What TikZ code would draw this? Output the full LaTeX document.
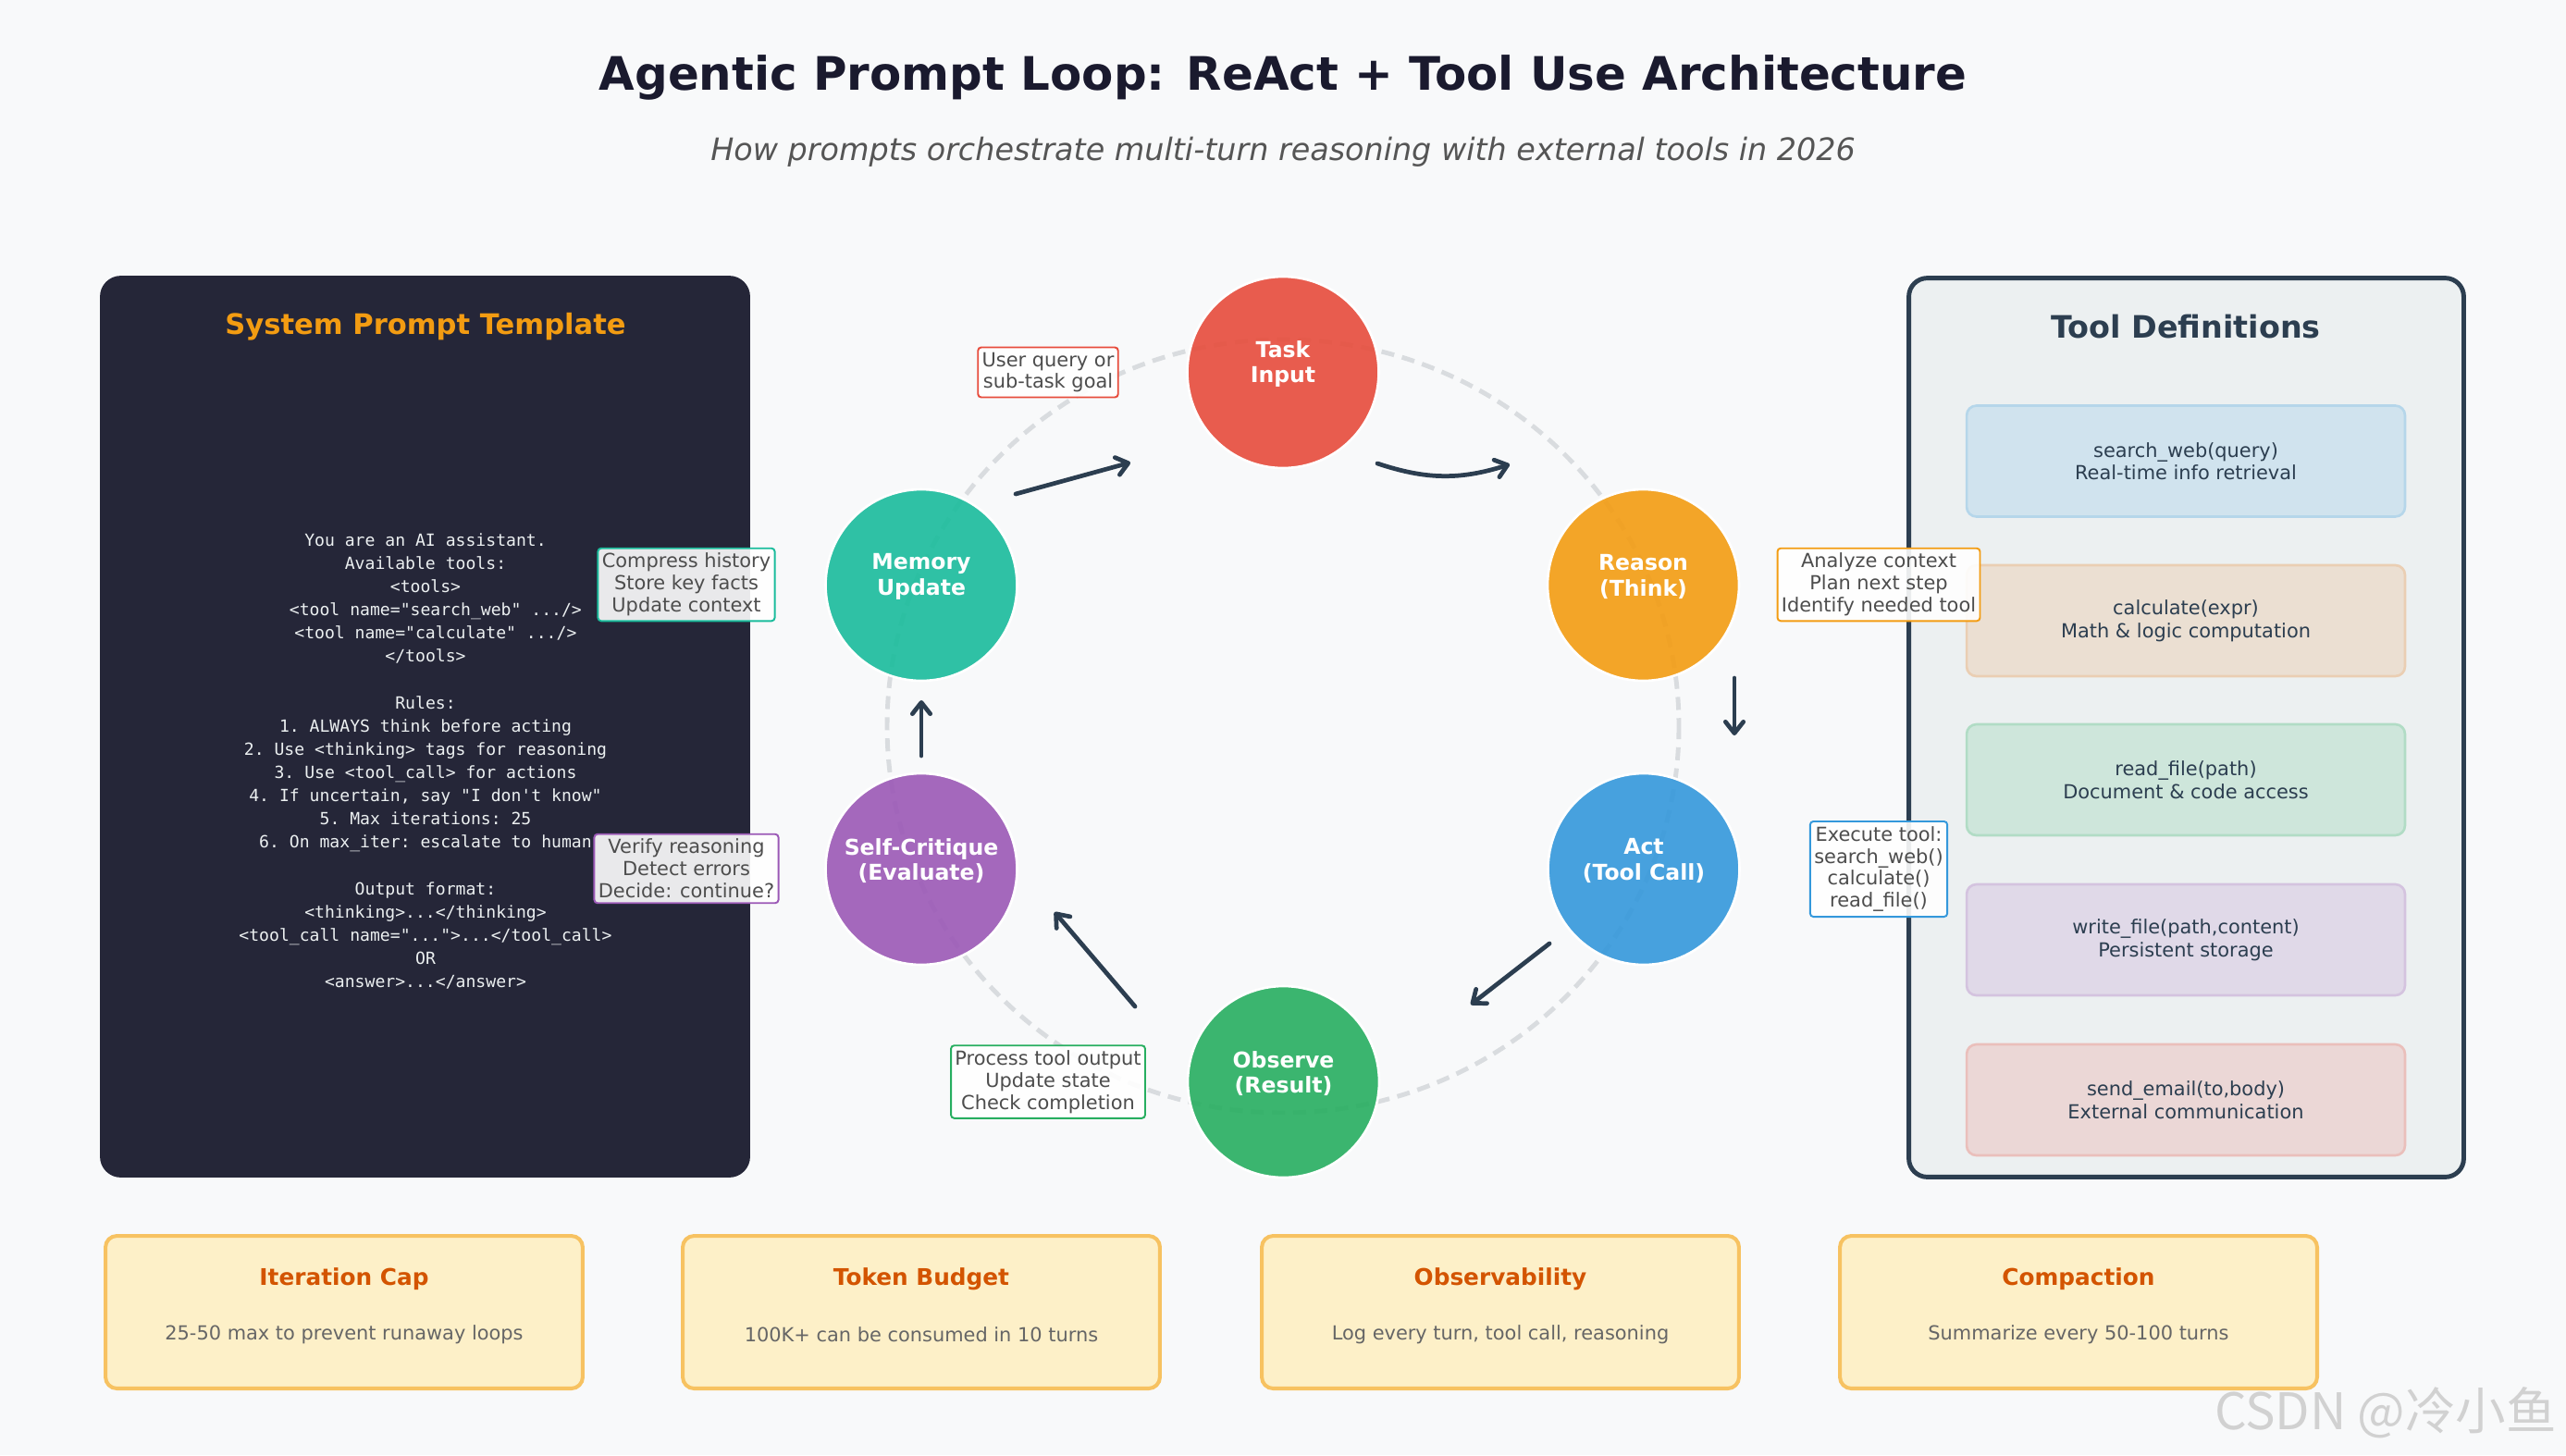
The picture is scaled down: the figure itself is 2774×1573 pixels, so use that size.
\documentclass[tikz,border=0pt]{standalone}
\usepackage{fontspec}
\setmainfont{DejaVu Sans}
\setmonofont{DejaVu Sans Mono}
\newfontfamily\cjkfont{Noto Sans CJK SC}
\usetikzlibrary{arrows.meta, calc}
\definecolor{pagebg}{HTML}{F8F9FA}
\definecolor{titlecol}{HTML}{1A1A2E}
\definecolor{subcol}{HTML}{555555}
\definecolor{panelbg}{HTML}{252638}
\definecolor{codecol}{HTML}{ECF0F1}
\definecolor{toolpanel}{HTML}{ECF0F1}
\definecolor{navy}{HTML}{2C3E50}
\definecolor{ringcol}{HTML}{D9DCDF}
\definecolor{notetext}{HTML}{4D4D4D}
\definecolor{cred}{HTML}{E74C3C}
\definecolor{corange}{HTML}{F39C12}
\definecolor{cdeep}{HTML}{E67E22}
\definecolor{cblue}{HTML}{3498DB}
\definecolor{cgreen}{HTML}{27AE60}
\definecolor{cpurple}{HTML}{9B59B6}
\definecolor{cteal}{HTML}{1ABC9C}
\definecolor{cardfill}{HTML}{FDF0C8}
\definecolor{cardline}{HTML}{F7C261}
\definecolor{cardhead}{HTML}{D35400}
\definecolor{carddesc}{HTML}{666666}

\begin{document}
\begin{tikzpicture}[x=0.02cm, y=-0.02cm,
 loopnode/.style={circle, minimum size=4.14cm, inner sep=0pt, draw=white, line width=1.5pt,
   fill=#1, fill opacity=0.9},
 looptext/.style={text=white, align=center, font=\bfseries\fontsize{13.4}{15.8}\selectfont},
 note/.style={draw=#1, fill=white, fill opacity=0.9, text opacity=1, text=notetext,
   rounded corners=2pt, line width=1.1pt, inner xsep=2.5pt, inner ysep=3pt, align=center,
   font=\fontsize{11.9}{13.6}\selectfont},
 toolbox/.style={draw=#1!30!toolpanel, fill=#1!15!toolpanel, rounded corners=6pt, line width=1.5pt,
   minimum width=9.48cm, minimum height=2.4cm, text=navy, align=center,
   font=\fontsize{11.9}{14}\selectfont},
 card/.style={draw=cardline, fill=cardfill, rounded corners=7pt, line width=2.3pt,
   minimum width=10.32cm, minimum height=3.3cm},
 cardttl/.style={text=cardhead, font=\bfseries\fontsize{14.1}{16}\selectfont},
 carddsc/.style={text=carddesc, font=\fontsize{11.9}{13}\selectfont},
 flow/.style={draw=navy, line width=2.7pt, line cap=round,
   -{Straight Barb[length=7pt,width=11pt,line cap=round,line join=round]}}]

\fill[pagebg] (0,0) rectangle (2774,1573);
\useasboundingbox (0,0) rectangle (2774,1573);

% heading
\node[anchor=base, text=titlecol, font=\bfseries\fontsize{28.4}{33}\selectfont] (title) at (1387,97)
  {Agentic Prompt Loop: ReAct + Tool Use Architecture};
\node[anchor=base, text=subcol, font=\itshape\fontsize{19}{23}\selectfont] (subtitle) at (1387,173)
  {How prompts orchestrate multi-turn reasoning with external tools in 2026};

% system prompt panel
\node[fill=panelbg, rounded corners=0.45cm, minimum width=14.06cm, minimum height=19.5cm] (sysp) at (459.5,785.5) {};
\node[text=corange, font=\bfseries\fontsize{17.4}{20}\selectfont] (sysptitle) at (460,353) {System Prompt Template};
\node[text=codecol, align=center, font=\ttfamily\fontsize{10.3}{14.3}\selectfont] (code) at (460,823)
  {You are an AI assistant.\\
   Available tools:\\
   <tools>\\
   \phantom{xx}<tool name="search\_web" .../>\\
   \phantom{xx}<tool name="calculate" .../>\\
   </tools>\\
   \mbox{}\\
   Rules:\\
   1. ALWAYS think before acting\\
   2. Use <thinking> tags for reasoning\\
   3. Use <tool\_call> for actions\\
   4. If uncertain, say "I don't know"\\
   5. Max iterations: 25\\
   6. On max\_iter: escalate to human\\
   \mbox{}\\
   Output format:\\
   <thinking>...</thinking>\\
   <tool\_call name="...">...</tool\_call>\\
   OR\\
   <answer>...</answer>};

% tool definitions panel
\node[draw=navy, line width=2.8pt, fill=toolpanel, rounded corners=0.4cm, minimum width=12cm, minimum height=19.44cm] (tools) at (2363.5,786.5) {};
\node[text=navy, font=\bfseries\fontsize{19}{22}\selectfont] (toolstitle) at (2363,353) {Tool Definitions};
\node[toolbox=cblue] (tsearch) at (2363,498.5) {search\_web(query)\\Real-time info retrieval};
\node[toolbox=cdeep] (tcalc) at (2363,671) {calculate(expr)\\Math \& logic computation};
\node[toolbox=cgreen] (tread) at (2363,843) {read\_file(path)\\Document \& code access};
\node[toolbox=cpurple] (twrite) at (2363,1016) {write\_file(path,content)\\Persistent storage};
\node[toolbox=cred] (temail) at (2363,1189) {send\_email(to,body)\\External communication};

% loop ring
\draw[ringcol, line width=2.8pt, dash pattern=on 8pt off 5pt] (1387,785) ellipse [x radius=428, y radius=418];

\node[loopnode=cred] (task) at (1387,402.5) {};
\node[loopnode=corange] (reason) at (1776.5,632.5) {};
\node[loopnode=cblue] (act) at (1777,939.5) {};
\node[loopnode=cgreen] (observe) at (1387.5,1169.5) {};
\node[loopnode=cpurple] (critique) at (996,939.5) {};
\node[loopnode=cteal] (memory) at (996,632.5) {};
\node[looptext] (tasktxt) at ($(task)+(0,-9)$) {Task\\Input};
\node[looptext] (reasontxt) at ($(reason)+(0,-9)$) {Reason\\(Think)};
\node[looptext] (acttxt) at ($(act)+(0,-9)$) {Act\\(Tool Call)};
\node[looptext] (observetxt) at ($(observe)+(0,-9)$) {Observe\\(Result)};
\node[looptext] (critiquetxt) at ($(critique)+(0,-9)$) {Self-Critique\\(Evaluate)};
\node[looptext] (memorytxt) at ($(memory)+(0,-9)$) {Memory\\Update};

% callouts
\node[note=cred] (tasknote) at (1133,402.5) {User query or\\sub-task goal};
\node[note=corange] (reasonnote) at (2031,632) {Analyze context\\Plan next step\\Identify needed tool};
\node[note=cblue] (actnote) at (2031,939.5) {Execute tool:\\search\_web()\\calculate()\\read\_file()};
\node[note=cgreen] (observenote) at (1133,1169.5) {Process tool output\\Update state\\Check completion};
\node[note=cpurple] (critiquenote) at (742,939) {Verify reasoning\\Detect errors\\Decide: continue?};
\node[note=cteal] (memorynote) at (742,632) {Compress history\\Store key facts\\Update context};

% loop arrows
\coordinate (m2t-a) at (1098,534); \coordinate (m2t-b) at (1222,500);
\coordinate (t2r-a) at (1489,501); \coordinate (t2r-b) at (1632,502);
\coordinate (r2a-a) at (1875,733); \coordinate (r2a-b) at (1875,795);
\coordinate (a2o-a) at (1675,1020); \coordinate (a2o-b) at (1590,1086);
\coordinate (o2c-a) at (1227,1088); \coordinate (o2c-b) at (1140,986);
\coordinate (c2m-a) at (996,817); \coordinate (c2m-b) at (996,757);
\draw[flow] (m2t-a) -- (m2t-b);
\draw[flow] (t2r-a) to[bend right=18] (t2r-b);
\draw[flow] (r2a-a) -- (r2a-b);
\draw[flow] (a2o-a) -- (a2o-b);
\draw[flow] (o2c-a) -- (o2c-b);
\draw[flow] (c2m-a) -- (c2m-b);

% bottom cards
\node[card] (capcard) at (372,1418.5) {};
\node[cardttl] (captitle) at (372,1383) {Iteration Cap};
\node[carddsc] (capdesc) at (372,1443) {25-50 max to prevent runaway loops};
\node[card] (tokcard) at (996,1418.5) {};
\node[cardttl] (toktitle) at (996,1383) {Token Budget};
\node[carddsc] (tokdesc) at (996,1443) {100K+ can be consumed in 10 turns};
\node[card] (obscard) at (1622,1418.5) {};
\node[cardttl] (obstitle) at (1622,1383) {Observability};
\node[carddsc] (obsdesc) at (1622,1443) {Log every turn, tool call, reasoning};
\node[card] (cmpcard) at (2247,1418.5) {};
\node[cardttl] (cmptitle) at (2247,1383) {Compaction};
\node[carddsc] (cmpdesc) at (2247,1443) {Summarize every 50-100 turns};

% watermark
\node[anchor=east, text=black!18, font=\cjkfont\fontsize{31}{32}\selectfont] (mark) at (2770,1527) {CSDN @冷小鱼};

\end{tikzpicture}
\end{document}
